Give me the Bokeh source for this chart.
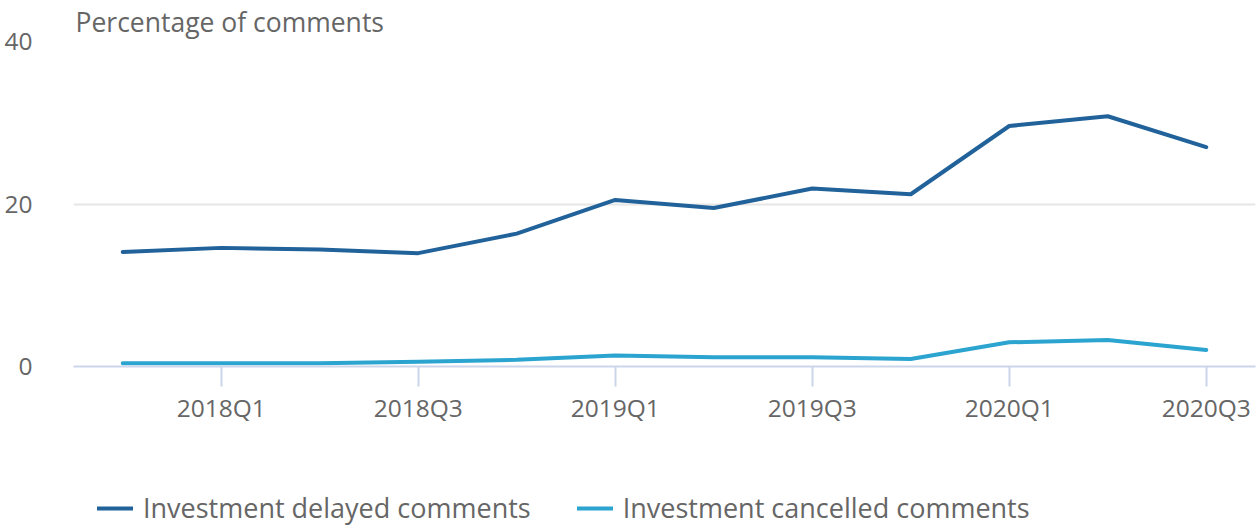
from bokeh.plotting import figure
from bokeh.layouts import column
from bokeh.models import Range1d, FixedTicker, Legend, LegendItem, ColumnDataSource
from bokeh.embed import file_html
from bokeh.resources import INLINE

quarters = ["2017Q4", "2018Q1", "2018Q2", "2018Q3", "2018Q4", "2019Q1",
            "2019Q2", "2019Q3", "2019Q4", "2020Q1", "2020Q2", "2020Q3"]
delayed = [14.1, 14.6, 14.4, 13.95, 16.35, 20.5, 19.5, 21.9, 21.2, 29.6, 30.8, 27.0]
cancelled = [0.4, 0.4, 0.4, 0.57, 0.82, 1.35, 1.14, 1.14, 0.92, 2.98, 3.26, 2.04]
y_ticks = [0, 20, 40]
series_names = ["Investment delayed comments", "Investment cancelled comments"]

FONT = "Open Sans"
GREY = "#666666"
C1 = "#21629a"
C2 = "#2ba4cf"

src = ColumnDataSource(dict(x=list(range(len(quarters))), delayed=delayed, cancelled=cancelled))

# ---- main chart ----
p = figure(width=1259, height=428, output_backend="svg", toolbar_location=None,
           x_range=Range1d(-0.5, len(quarters) - 0.5), y_range=Range1d(0, 40),
           min_border_left=73, min_border_right=4, min_border_top=39, min_border_bottom=62,
           title="Percentage of comments")
p.outline_line_color = None
p.background_fill_color = "white"
p.border_fill_color = "white"

p.title.text_font = FONT
p.title.text_font_size = "26.5px"
p.title.text_font_style = "normal"
p.title.text_color = GREY
p.title.align = "left"
p.title.offset = 2
p.title.standoff = 3

line_kw = dict(line_width=4, line_cap="round", line_join="round")
p.line("x", "delayed", source=src, line_color=C1, **line_kw)
p.line("x", "cancelled", source=src, line_color=C2, **line_kw)

xa = p.xaxis[0]
xa.ticker = FixedTicker(ticks=list(range(1, len(quarters), 2)))
xa.major_label_overrides = {i: quarters[i] for i in range(1, len(quarters), 2)}
xa.axis_line_color = "#ccd6eb"
xa.axis_line_width = 2
xa.major_tick_line_color = "#ccd6eb"
xa.major_tick_line_width = 2
xa.major_tick_out = 20
xa.major_tick_in = 0
xa.minor_tick_line_color = None
xa.major_label_standoff = 4
xa.major_label_text_font = FONT
xa.major_label_text_font_size = "24.5px"
xa.major_label_text_color = GREY

ya = p.yaxis[0]
ya.ticker = FixedTicker(ticks=y_ticks)
ya.axis_line_color = None
ya.major_tick_line_color = None
ya.minor_tick_line_color = None
ya.major_label_standoff = 35
ya.major_label_text_font = FONT
ya.major_label_text_font_size = "24.5px"
ya.major_label_text_color = GREY

p.xgrid.grid_line_color = None
p.ygrid.grid_line_color = "#e6e6e6"
p.ygrid.grid_line_width = 2

# ---- legend strip (same series, drawn outside its view so only the legend shows) ----
pl = figure(width=1259, height=98, output_backend="svg", toolbar_location=None,
            x_range=p.x_range, y_range=Range1d(100, 200),
            x_axis_location=None, y_axis_location=None,
            min_border_left=0, min_border_right=0, min_border_top=0, min_border_bottom=0)
pl.outline_line_color = None
pl.grid.grid_line_color = None
pl.border_fill_color = "white"
l1 = pl.line("x", "delayed", source=src, line_color=C1, **line_kw)
l2 = pl.line("x", "cancelled", source=src, line_color=C2, **line_kw)

legend = Legend(items=[LegendItem(label=series_names[0], renderers=[l1]),
                       LegendItem(label=series_names[1], renderers=[l2])],
                orientation="horizontal", location=(24, 0))
legend.label_text_font = FONT
legend.label_text_font_size = "27px"
legend.label_text_color = GREY
legend.glyph_width = 36
legend.label_standoff = 10
legend.spacing = 46
legend.padding = 0
legend.margin = 0
legend.border_line_color = None
legend.background_fill_alpha = 0
pl.add_layout(legend, "center")

layout = column(p, pl, spacing=0)
open("out.html", "w").write(file_html(layout, INLINE))
